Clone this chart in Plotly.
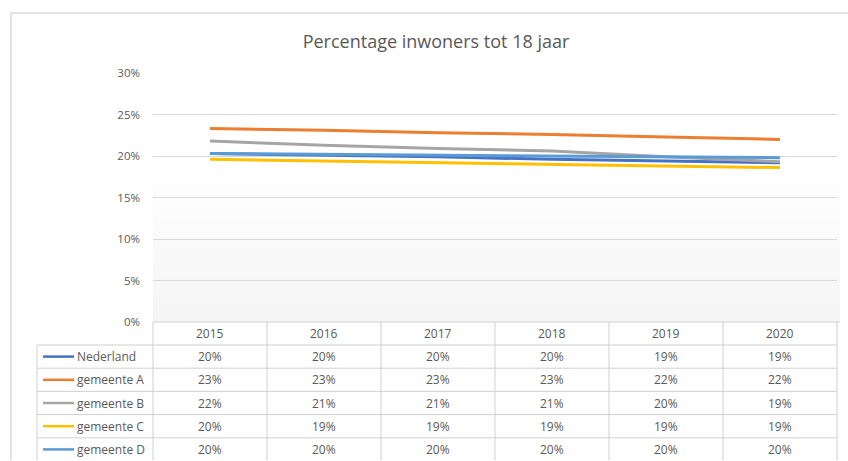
import plotly.graph_objects as go

years = ["2015", "2016", "2017", "2018", "2019", "2020"]
series_names = ["Nederland", "gemeente A", "gemeente B", "gemeente C", "gemeente D"]
nederland = [20.3, 20.1, 19.9, 19.6, 19.4, 19.2]
gemeente_a = [23.3, 23.1, 22.8, 22.6, 22.3, 22.0]
gemeente_b = [21.8, 21.3, 20.9, 20.6, 19.9, 19.3]
gemeente_c = [19.6, 19.4, 19.2, 19.0, 18.8, 18.6]
gemeente_d = [20.3, 20.2, 20.1, 20.0, 19.9, 19.8]
y_ticks = [0, 5, 10, 15, 20, 25, 30]
title_text = "Percentage inwoners tot 18 jaar"

values = [nederland, gemeente_a, gemeente_b, gemeente_c, gemeente_d]
colors = ["#4472C4", "#ED7D31", "#A5A5A5", "#FFC000", "#5B9BD5"]

FONT = "Open Sans, Noto Sans, sans-serif"
TXT = "#595959"
GRID = "#d9d9d9"
TBL = "#d0d0d0"

# page margins are removed below, so figure pixels equal picture pixels
W, H = 848, 460
PLOT_L, PLOT_R, PLOT_T, PLOT_B = 153, 837, 73, 322  # picture pixels
L, T = PLOT_L, PLOT_T
R = W - PLOT_R
B = H - PLOT_B
PH = PLOT_B - PLOT_T
PW = PLOT_R - PLOT_L


def py(pix):
    return (PLOT_B - pix) / PH


def px(pix):
    return (pix - PLOT_L) / PW


fig = go.Figure()
xi = list(range(len(years)))
for name, vals, col in zip(series_names, values, colors):
    fig.add_trace(go.Scatter(x=xi, y=vals, mode="lines", name=name,
                             line=dict(color=col, width=3), showlegend=False,
                             hoverinfo="x+y+name"))

shapes = []
# faint grey shading in lower plot area (soft gradient)
n_bands = 10
for k in range(n_bands):
    top = 0.6 * (1 - k / n_bands)
    shapes.append(dict(type="rect", xref="x domain", yref="paper", x0=0, x1=1.005, y0=0, y1=top,
                       fillcolor="rgba(0,0,0,0.005)", line=dict(width=0), layer="below"))
# outer chart border (top and left edges; the rest lies outside the picture)
shapes.append(dict(type="line", xref="paper", yref="paper", x0=px(11), x1=px(860), y0=py(13), y1=py(13),
                   line=dict(color="#d9d9d9", width=1.5)))
shapes.append(dict(type="line", xref="paper", yref="paper", x0=px(11), x1=px(11), y0=py(13), y1=py(470),
                   line=dict(color="#d9d9d9", width=1.5)))

# table geometry (picture pixels)
header_top = PLOT_B
header_bot = header_top + 23
row_h = 23.2
row_bounds = [header_bot + i * row_h for i in range(len(series_names) + 1)]
left_col = 37

shapes.append(dict(type="line", xref="paper", yref="paper", x0=0, x1=1.005,
                   y0=py(header_top), y1=py(header_top), line=dict(color=TBL, width=1)))
for yb in row_bounds:
    shapes.append(dict(type="line", xref="paper", yref="paper", x0=px(left_col), x1=1,
                       y0=py(yb), y1=py(yb), line=dict(color=TBL, width=1)))
for i in range(len(years) + 1):
    xd = i / len(years)
    shapes.append(dict(type="line", xref="x domain", yref="paper", x0=xd, x1=xd,
                       y0=py(header_top), y1=py(470), line=dict(color=TBL, width=1)))
shapes.append(dict(type="line", xref="paper", yref="paper", x0=px(left_col), x1=px(left_col),
                   y0=py(header_bot), y1=py(470), line=dict(color=TBL, width=1)))

annotations = []
for i, yr in enumerate(years):
    annotations.append(dict(x=i, y=py((header_top + header_bot) / 2), xref="x", yref="paper",
                            text=yr, showarrow=False, font=dict(family=FONT, size=12, color=TXT),
                            xanchor="center", yanchor="middle"))
for r, (name, vals, col) in enumerate(zip(series_names, values, colors)):
    yc = py((row_bounds[r] + row_bounds[r + 1]) / 2)
    shapes.append(dict(type="line", xref="paper", yref="paper", x0=px(43), x1=px(74),
                       y0=yc, y1=yc, line=dict(color=col, width=2.5)))
    annotations.append(dict(x=px(75), y=yc, xref="paper", yref="paper", text=name,
                            showarrow=False, xanchor="left", yanchor="middle",
                            font=dict(family=FONT, size=12, color=TXT)))
    for i, v in enumerate(vals):
        annotations.append(dict(x=i, y=yc, xref="x", yref="paper", text=f"{round(v):d}%",
                                showarrow=False, xanchor="center", yanchor="middle",
                                font=dict(family=FONT, size=12, color=TXT)))

fig.update_layout(
    width=W, height=H,
    margin=dict(l=L, r=R, t=T, b=B, pad=0),
    paper_bgcolor="white", plot_bgcolor="white",
    title=dict(text=title_text, xref="container", x=436 / W, xanchor="center",
               yref="container", y=1 - 42 / H, yanchor="middle",
               font=dict(family=FONT, size=18, color=TXT)),
    xaxis=dict(range=[-0.5, len(years) - 0.5], showticklabels=False, showgrid=False,
               zeroline=False, showline=False, fixedrange=True),
    yaxis=dict(range=[0, 30], tickvals=y_ticks, ticktext=[f"{t}%" for t in y_ticks],
               showgrid=True, gridcolor=GRID, gridwidth=1, zeroline=False, showline=False,
               ticks="", ticklabelstandoff=12,
               tickfont=dict(family=FONT, size=11.5, color=TXT), fixedrange=True),
    shapes=shapes, annotations=annotations,
)

fig.write_html(
    "out.html",
    config={"displayModeBar": False},
    post_script=(
        "document.documentElement.style.margin='0';"
        "document.documentElement.style.overflow='hidden';"
        "document.body.style.margin='0';"
        "document.body.style.overflow='hidden';"
    ),
)
